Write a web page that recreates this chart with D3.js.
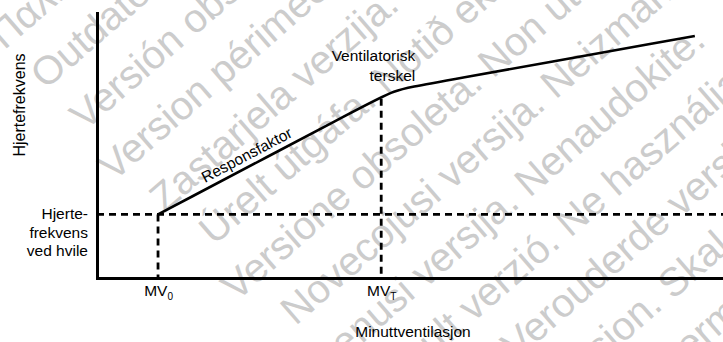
<!DOCTYPE html>
<html>
<head>
<meta charset="utf-8">
<script src="https://cdn.jsdelivr.net/npm/d3@7"></script>
<style>
  html, body { margin: 0; padding: 0; background: #ffffff; }
  svg { display: block; }
  text { font-family: "Liberation Sans", Arial, sans-serif; }
</style>
</head>
<body>
<div id="chart"></div>
<script>
// ---- data (conceptual units, 0..100 on both axes) ----
const curveMV = [9.75, 42.8, 47.35, 52.4, 95.5];   // minute ventilation control points
const curveHR = [24, 65.1, 70.9, 73.1, 91.3];      // heart rate control points
const restHR = 24;
const thresholdHR = 67.6;
const mvTicks = [9.75, 45.4];
const mvTickMain = ["MV", "MV"];
const mvTickSub = ["0", "T"];
const restLabel = ["Hjerte-", "frekvens", "ved hvile"];
const thresholdLabel = ["Ventilatorisk", "terskel"];
const slopeLabel = "Responsfaktor";
const slopeLabelMV = 17.7;
const xTitle = "Minuttventilasjon";
const yTitle = "Hjertefrekvens";
const watermarkText = [
  "Παλιά έκδοση. Μην την χρησιμοποιείτε.",
  "Outdated version. Do not use.",
  "Versión obsoleta. No utilizar.",
  "Version périmée. Ne pas utiliser.",
  "Zastarjela verzija. Nemojte upotrebljavati.",
  "Úrelt útgáfa. Notið ekki.",
  "Versione obsoleta. Non utilizzare.",
  "Novecojusi versija. Neizmantot.",
  "Pasenusi versija. Nenaudokite.",
  "Elavult verzió. Ne használja!",
  "Verouderde versie. Niet gebruiken.",
  "Utdatert versjon. Skal ikke brukes.",
  "Wersja przeterminowana. Nie używać."
];
const watermarkShift = [-30, -25, -22, -34, -16, 0, -20, 9, -44, 14, 153, 6, 60];

// ---- layout ----
const W = 723, H = 342;
const svg = d3.select("#chart").append("svg").attr("width", W).attr("height", H);

const x = d3.scaleLinear().domain([0, 100]).range([97, 723]);
const y = d3.scaleLinear().domain([0, 100]).range([278, 13]);

// ---- watermark ----
const wmAngle = 41, wmSpacing = 57, wmFirst = 41;
const wm = svg.append("g").attr("transform", `rotate(${-wmAngle})`);
wm.selectAll("text").data(watermarkText).join("text")
  .attr("x", (d, i) => watermarkShift[i])
  .attr("y", (d, i) => wmFirst + i * wmSpacing)
  .attr("font-size", 40)
  .attr("fill", "#cccccc")
  .text(d => d);

// ---- axes ----
const xAxis = svg.append("g").attr("transform", `translate(0,${y(0)})`)
  .call(d3.axisBottom(x).tickValues(mvTicks).tickSize(0).tickSizeOuter(0).tickFormat(""));
const yAxis = svg.append("g").attr("transform", `translate(${x(0)},0)`)
  .call(d3.axisLeft(y).tickValues([]).tickSizeOuter(0));
svg.selectAll(".domain").attr("stroke", "#000").attr("stroke-width", 3).attr("stroke-linecap", "square");

xAxis.selectAll(".tick text").each(function(d, i) {
  const t = d3.select(this).text(null)
    .attr("y", 18).attr("dy", null)
    .attr("fill", "#000").attr("font-size", 15.5)
    .attr("font-family", "Liberation Sans, Arial, sans-serif")
    .attr("text-anchor", "middle");
  t.append("tspan").text(mvTickMain[i]);
  t.append("tspan").attr("font-size", 10).attr("dy", 4).text(mvTickSub[i]);
});

// ---- dashed guides ----
const dash = "7,5";
const guides = svg.append("g").attr("stroke", "#000").attr("stroke-width", 2.8)
  .attr("stroke-dasharray", dash).attr("fill", "none");
guides.append("line").attr("x1", x(0)).attr("x2", x(100)).attr("y1", y(restHR)).attr("y2", y(restHR));
guides.append("line").attr("x1", x(mvTicks[0])).attr("x2", x(mvTicks[0])).attr("y1", y(restHR)).attr("y2", y(0));
guides.append("line").attr("x1", x(mvTicks[1])).attr("x2", x(mvTicks[1])).attr("y1", y(thresholdHR)).attr("y2", y(0));

// ---- response curve ----
const pts = curveMV.map((m, i) => [m, curveHR[i]]);
svg.append("path").datum(pts)
  .attr("fill", "none").attr("stroke", "#000").attr("stroke-width", 2.6)
  .attr("d", d3.line().x(d => x(d[0])).y(d => y(d[1])).curve(d3.curveBasis));

// ---- labels ----
const slope = (curveHR[1] - curveHR[0]) / (curveMV[1] - curveMV[0]);
const angle = Math.atan2(y(curveHR[0]) - y(curveHR[1]), x(curveMV[1]) - x(curveMV[0])) * 180 / Math.PI;
const lx = x(slopeLabelMV), ly = y(curveHR[0] + slope * (slopeLabelMV - curveMV[0]));
svg.append("text")
  .attr("transform", `translate(${lx},${ly}) rotate(${-angle}) translate(0,-6)`)
  .attr("font-size", 15.5).attr("fill", "#000")
  .text(slopeLabel);

svg.append("g").selectAll("text").data(thresholdLabel).join("text")
  .attr("x", x(mvTicks[1]) + 34)
  .attr("y", (d, i) => y(thresholdHR) - 38 + i * 20)
  .attr("text-anchor", "end").attr("font-size", 15.5).attr("fill", "#000")
  .text(d => d);

svg.append("g").selectAll("text").data(restLabel).join("text")
  .attr("x", x(0) - 9)
  .attr("y", (d, i) => y(restHR) + 5 + i * 18.4)
  .attr("text-anchor", "end").attr("font-size", 15.5).attr("fill", "#000")
  .text(d => d);

svg.append("text")
  .attr("x", 413).attr("y", y(0) + 59)
  .attr("text-anchor", "middle").attr("font-size", 15.5).attr("fill", "#000")
  .text(xTitle);

svg.append("text")
  .attr("transform", `translate(25,105) rotate(-90)`)
  .attr("text-anchor", "middle").attr("font-size", 16).attr("fill", "#000")
  .text(yTitle);
</script>
</body>
</html>
